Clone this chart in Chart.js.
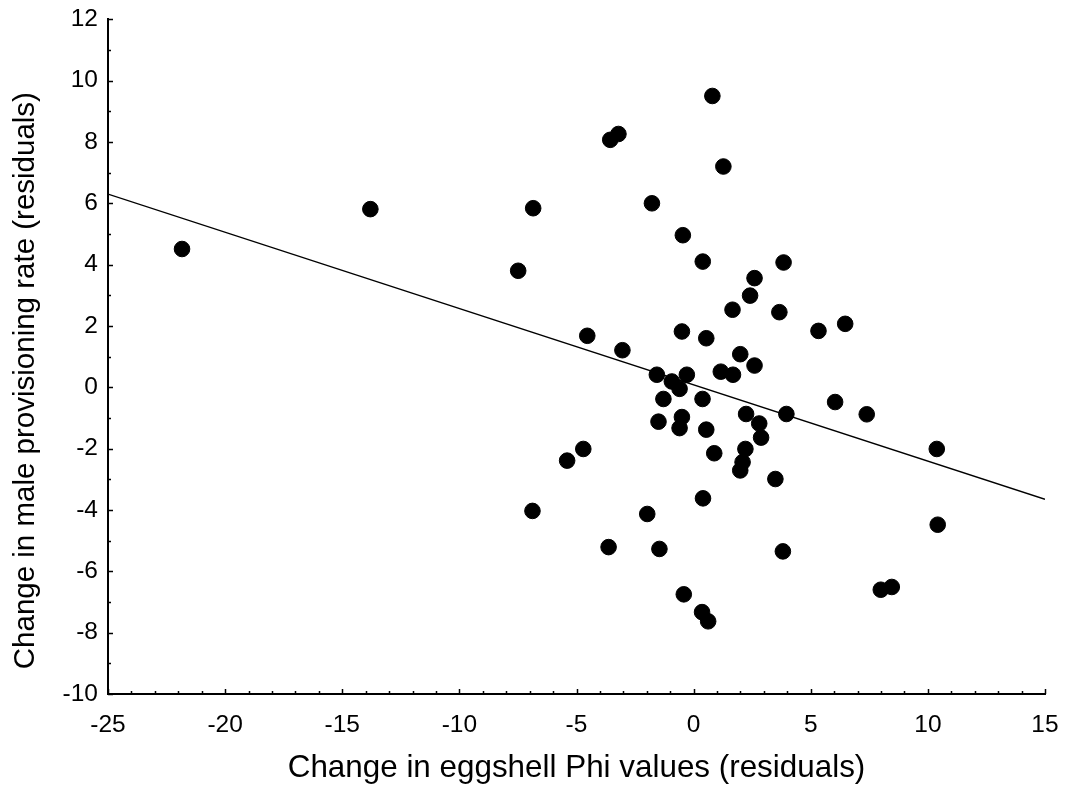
<!DOCTYPE html>
<html>
<head>
<meta charset="utf-8">
<script src="https://cdn.jsdelivr.net/npm/chart.js@4.4.1/dist/chart.umd.min.js"></script>
<style>
    html, body { margin: 0; padding: 0; background: #fff; }
    #wrap { width: 1073px; height: 789px; }
</style>
</head>
<body>
<div id="wrap"><canvas id="scatter" width="1073" height="789"></canvas></div>
<script>
// Residual changes per pair: eggshell Phi (x) vs male provisioning rate (y)
const phiChange = [
    -21.84, -13.80, -6.85, -7.49, -4.54, -3.04, 0.39, 3.84, 2.60, 2.41,
    1.66, 3.66, 5.33, 6.47, -0.50, 0.54, 1.99, 2.60, 1.16, 1.68,
    -1.57, -0.29, -0.93, -0.60, -1.29, 0.38, -1.50, -0.50, -0.60, 0.54,
    2.24, 3.96, 2.80, 2.88, 0.88, 2.21, 2.09, 1.99, 3.49, 0.40,
    6.04, 7.39, -4.71, -5.40, 10.38, 10.42, 7.99, 8.46, -6.88, -1.98,
    -3.63, -1.46, 3.81, -0.42, 0.36, 0.62, 0.80, -3.56, -3.21, 1.27,
    -1.78, -0.46
];
const provisioningChange = [
    4.51, 5.81, 5.84, 3.80, 1.68, 1.21, 4.10, 4.07, 3.56, 2.99,
    2.53, 2.45, 1.84, 2.07, 1.82, 1.60, 1.08, 0.71, 0.51, 0.41,
    0.41, 0.41, 0.19, -0.05, -0.38, -0.38, -1.12, -0.97, -1.33, -1.38,
    -0.87, -0.87, -1.18, -1.64, -2.15, -2.01, -2.44, -2.71, -2.99, -3.62,
    -0.48, -0.88, -2.01, -2.39, -2.01, -4.48, -6.60, -6.51, -4.03, -4.13,
    -5.21, -5.27, -5.35, -6.75, -7.33, -7.63, 9.50, 8.07, 8.26, 7.20,
    6.00, 4.96
];

// Fitted regression line, end points at the axis limits
const fitX = [-25, 15];
const fitY = [6.30, -3.65];

const xMin = -25, xMax = 15, xMajor = 5;
const yMin = -10, yMax = 12, yMajor = 2;

const xTitle = "Change in eggshell Phi values (residuals)";
const yTitle = "Change in male provisioning rate (residuals)";

const FONT = "'Liberation Sans', Arial, Helvetica, sans-serif";

const points = phiChange.map((x, i) => ({ x: x, y: provisioningChange[i] }));
const fitLine = fitX.map((x, i) => ({ x: x, y: fitY[i] }));

// Chart.js only draws outward tick marks, so draw inward major/minor ticks here,
// plus the y title, which sits a little below the middle of the axis
const axisExtras = {
    id: "axisExtras",
    afterDraw(chart) {
        const ctx = chart.ctx;
        const area = chart.chartArea;
        const xs = chart.scales.x;
        const ys = chart.scales.y;
        ctx.save();
        ctx.strokeStyle = "#000";
        ctx.lineWidth = 1.5;
        ctx.beginPath();
        xs.ticks.forEach(t => {
            const px = Math.round(xs.getPixelForValue(t.value)) + 0.5;
            const len = t.value % xMajor === 0 ? 5 : 3;
            ctx.moveTo(px, area.bottom);
            ctx.lineTo(px, area.bottom - len);
        });
        ys.ticks.forEach(t => {
            const py = Math.round(ys.getPixelForValue(t.value)) + 0.5;
            const len = t.value % yMajor === 0 ? 5 : 3;
            ctx.moveTo(area.left, py);
            ctx.lineTo(area.left + len, py);
        });
        ctx.stroke();

        ctx.translate(26, (area.top + area.bottom) / 2 + 24);
        ctx.rotate(-Math.PI / 2);
        ctx.fillStyle = "#000";
        ctx.font = "29.5px " + FONT;
        ctx.textAlign = "center";
        ctx.textBaseline = "middle";
        ctx.fillText(yTitle, 0, 0);
        ctx.restore();
    }
};

new Chart(document.getElementById("scatter"), {
    type: "scatter",
    data: {
        datasets: [
            {
                label: "Pairs",
                data: points,
                backgroundColor: "#000",
                borderColor: "#000",
                borderWidth: 1,
                pointRadius: 7.8,
                pointHoverRadius: 7.8
            },
            {
                label: "Fit",
                type: "line",
                data: fitLine,
                borderColor: "#000",
                borderWidth: 1.4,
                pointRadius: 0,
                fill: false
            }
        ]
    },
    options: {
        responsive: false,
        animation: false,
        events: [],
        layout: { padding: { top: 19.3, right: 28, left: 0, bottom: 0 } },
        plugins: {
            legend: { display: false },
            tooltip: { enabled: false }
        },
        scales: {
            x: {
                type: "linear",
                min: xMin,
                max: xMax,
                grid: { display: false, drawTicks: true, tickLength: 17 },
                border: { display: true, color: "#000", width: 2 },
                ticks: {
                    stepSize: 1,
                    autoSkip: false,
                    maxRotation: 0,
                    padding: 0,
                    color: "#000",
                    font: { family: FONT, size: 24.5 },
                    callback: v => (v % xMajor === 0 ? String(v) : "")
                },
                title: {
                    display: true,
                    text: xTitle,
                    color: "#000",
                    font: { family: FONT, size: 31.4 },
                    padding: { top: 0, bottom: 2 }
                },
                afterFit: scale => { scale.height = 95; }
            },
            y: {
                type: "linear",
                min: yMin,
                max: yMax,
                grid: { display: false, drawTicks: true, tickLength: 10 },
                border: { display: true, color: "#000", width: 2 },
                ticks: {
                    stepSize: 1,
                    autoSkip: false,
                    padding: 0,
                    color: "#000",
                    font: { family: FONT, size: 24.5 },
                    callback: v => (v % yMajor === 0 ? String(v) : "")
                },
                afterFit: scale => { scale.width = 108; }
            }
        }
    },
    plugins: [axisExtras]
});
</script>
</body>
</html>
